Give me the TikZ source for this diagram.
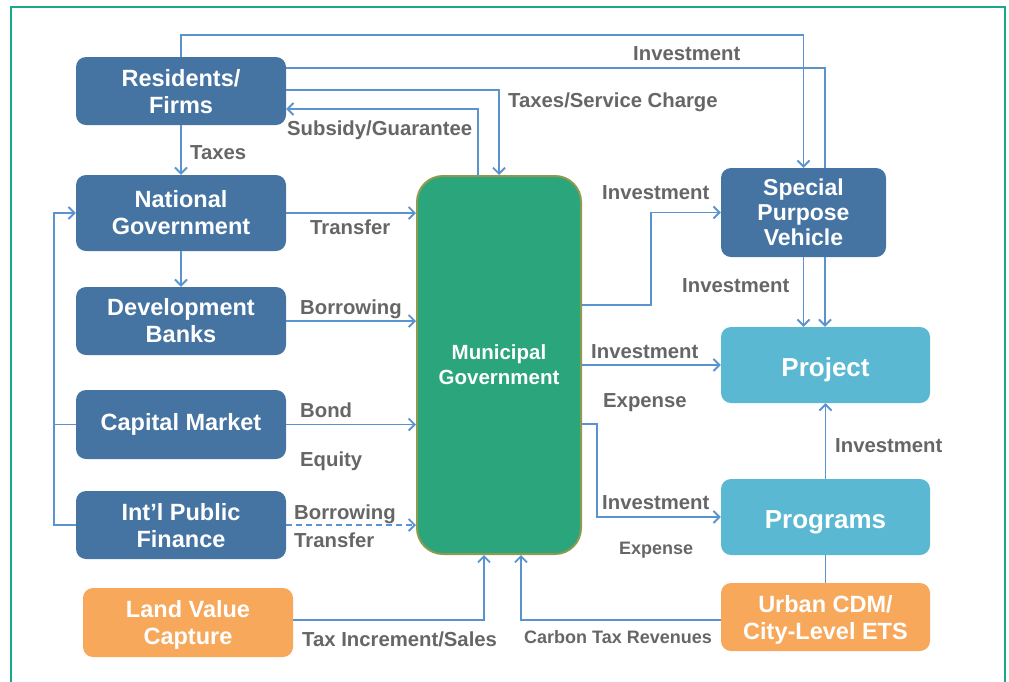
\documentclass[tikz,border=0pt]{standalone}
\usepackage{fontspec}
\setmainfont{Liberation Sans}
\usetikzlibrary{arrows.meta}
\definecolor{dblue}{HTML}{4574A3}
\definecolor{lblue}{HTML}{5BB8D2}
\definecolor{orng}{HTML}{F7A85B}
\definecolor{grn}{HTML}{2BA57B}
\definecolor{grnb}{HTML}{8C9B4F}
\definecolor{lnc}{HTML}{5B93CF}
\definecolor{gtxt}{HTML}{666666}
\definecolor{frm}{HTML}{18A88A}
\pgfdeclarelayer{bg}
\pgfsetlayers{bg,main}
\tikzset{
  box/.style={rounded corners=10pt, draw=none, text=white, align=center,
    font=\fontsize{23.5}{27}\selectfont\bfseries, inner sep=0pt},
  bluebox/.style={box, fill=dblue},
  cyanbox/.style={box, fill=lblue, font=\fontsize{26}{30}\selectfont\bfseries, text height=23.5pt, text depth=0pt},
  orangebox/.style={box, fill=orng, text depth=-5pt},
  conn/.style={draw=lnc, line width=1.9pt},
  arr/.style={conn, -{Straight Barb[length=6pt,width=12pt,line width=1.9pt]}},
  lbl/.style={anchor=base west, text=gtxt, inner sep=0pt, font=\fontsize{20.3}{22}\selectfont\bfseries},
  slbl/.style={lbl, font=\fontsize{18}{20}\selectfont\bfseries},
}
\begin{document}
\begin{tikzpicture}[x=1pt,y=-1pt]
\useasboundingbox (0,0) rectangle (1009,681);
\draw[frm, line width=1.3pt] (11,700) -- (11,7) -- (1005,7) -- (1005,700);

% nodes
\node[bluebox, minimum width=210, minimum height=68, text depth=-3pt] (res) at (181,91) {Residents/\\Firms};
\node[bluebox, minimum width=210, minimum height=76] (nat) at (181,213) {National\\Government};
\node[bluebox, minimum width=210, minimum height=68] (dev) at (181,321) {Development\\Banks};
\node[bluebox, minimum width=210, minimum height=69] (cap) at (181,424.5) {Capital Market};
\node[bluebox, minimum width=210, minimum height=68, text depth=-3pt] (intl) at (181,525) {Int’l Public\\Finance};
\node[orangebox, minimum width=210, minimum height=69] (lvc) at (188,622.5) {Land Value\\Capture};
\node[rounded corners=26pt, fill=grn, draw=grnb, line width=2pt, minimum width=164, minimum height=378,
  text=white, align=center, font=\fontsize{20.5}{25}\selectfont\bfseries] (muni) at (499,365) {Municipal\\Government};
\node[bluebox, minimum width=165, minimum height=89, font=\fontsize{23}{25}\selectfont\bfseries] (spv) at (803.5,212.5) {Special\\Purpose\\Vehicle};
\node[cyanbox, minimum width=209, minimum height=76] (proj) at (825.5,365) {Project};
\node[cyanbox, minimum width=209, minimum height=76, text height=22pt] (prog) at (825.5,517) {Programs};
\node[orangebox, minimum width=209, minimum height=68] (cdm) at (825.5,617) {Urban CDM/\\City-Level ETS};

% connectors
\begin{pgfonlayer}{bg}
\draw[arr] (res.north) -- (res.north |- 0,35) -| (spv.north);
\draw[arr] (res.east |- 0,68) -| ([xshift=-0.5pt]proj.north);
\end{pgfonlayer}
\draw[arr] (res.east |- 0,90) -| (muni.north -| 499,0);
\draw[arr] (muni.north -| 478,0) |- (res.east |- 0,109);
\draw[arr] (res.south) -- (nat.north);
\draw[arr] (nat.east) -- (nat.east -| muni.west);
\draw[arr] (nat.south) -- (dev.north);
\draw[arr] (dev.east) -- (dev.east -| muni.west);
\draw[arr] (cap.east) -- (cap.east -| muni.west);
\draw[arr, dashed, dash pattern=on 6pt off 4pt] (intl.east) -- (intl.east -| muni.west);
\coordinate (lx) at (54,0);
\draw[arr] (intl.west) -- (intl.west -| lx) |- (nat.west);
\draw[conn] (cap.west) -- (cap.west -| lx);
\draw[arr] (lvc.east |- 0,620) -| (muni.south -| 484,0);
\draw[arr] (cdm.west |- 0,620) -| (muni.south -| 521,0);
\draw[arr] (muni.east |- 0,305) -- (651,305) |- (spv.west);
\draw[arr] (muni.east |- proj.west) -- (proj.west);
\draw[arr] (muni.east |- 0,424) -- (597,424) |- (prog.west);
\draw[arr] (spv.south) -- (spv.south |- proj.north);
\draw[arr] (prog.north) -- (proj.south);
\draw[conn] (cdm.north) -- (prog.south);

% labels
\node[lbl] (l1) at (633,60) {Investment};
\node[lbl] (l2) at (508,107) {Taxes/Service Charge};
\node[lbl] (l3) at (287,135) {Subsidy/Guarantee};
\node[lbl] (l4) at (190,159) {Taxes};
\node[lbl] (l5) at (310,234) {Transfer};
\node[lbl] (l6) at (300,314) {Borrowing};
\node[lbl] (l7) at (300,417) {Bond};
\node[lbl] (l8) at (300,466) {Equity};
\node[lbl] (l9) at (294,519) {Borrowing};
\node[lbl] (l10) at (294,547) {Transfer};
\node[lbl] (l11) at (302,646) {Tax Increment/Sales};
\node[slbl] (l12) at (524,643) {Carbon Tax Revenues};
\node[lbl] (l13) at (602,199) {Investment};
\node[lbl] (l14) at (682,292) {Investment};
\node[lbl] (l15) at (591,358) {Investment};
\node[lbl] (l16) at (603,407) {Expense};
\node[lbl] (l17) at (602,509) {Investment};
\node[slbl] (l18) at (619,554) {Expense};
\node[lbl] (l19) at (835,452) {Investment};
\end{tikzpicture}
\end{document}
